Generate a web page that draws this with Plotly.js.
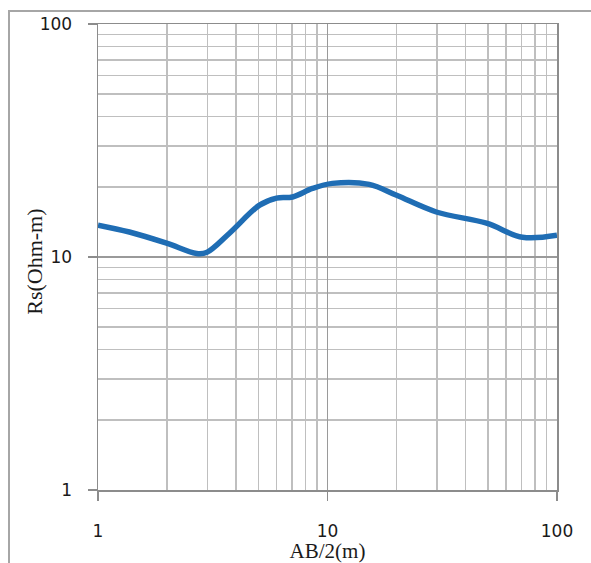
<!DOCTYPE html>
<html>
<head>
<meta charset="utf-8">
<script src="https://cdn.plot.ly/plotly-3.0.1.min.js"></script>
<style>
html,body{margin:0;padding:0;background:#fff;}
#wrap{position:absolute;left:0;top:0;width:591px;height:563px;overflow:hidden;}
#frame{position:absolute;left:8px;top:10px;width:700px;height:700px;border-left:2px solid #a6a6a6;border-top:2px solid #a6a6a6;pointer-events:none;}
#chart{position:absolute;left:0;top:0;width:591px;height:563px;}
</style>
</head>
<body>
<div id="wrap"><div id="chart"></div><div id="frame"></div></div>
<script>
// AB/2 (m)
const abHalf = [1.0, 1.37, 1.99, 2.69, 2.97, 3.74, 5.06, 6.0, 7.04, 8.6, 10.5, 15.2, 20.0, 29.8, 49.3, 70.7, 100];
// Apparent resistivity Rs (Ohm-m)
const rs = [13.7, 12.8, 11.46, 10.35, 10.45, 12.65, 16.7, 17.9, 18.1, 19.7, 20.7, 20.5, 18.4, 15.6, 13.96, 12.16, 12.4];
const majorTicks = [1, 10, 100];
const majorLabels = ['1', '10', '100'];
const xTitle = 'AB/2(m)';
const yTitle = 'Rs(Ohm-m)';

const tickFont = {family: 'DejaVu Sans', size: 17, color: '#1a1a1a'};
const titleFont = {family: 'Liberation Serif', size: 21, color: '#1a1a1a'};

const trace = {
  x: abHalf, y: rs, type: 'scatter', mode: 'lines',
  line: {color: '#1f6db4', width: 5.5, shape: 'spline', smoothing: 1},
  hoverinfo: 'x+y'
};

const axisCommon = {
  type: 'log',
  tickvals: majorTicks,
  ticktext: majorLabels,
  ticks: 'outside', ticklen: 9, tickwidth: 1.5, tickcolor: '#8c8c8c',
  showline: true, linecolor: '#8c8c8c', linewidth: 1.5, mirror: true,
  showgrid: true, gridcolor: '#9a9a9a', gridwidth: 1.5,
  minor: {dtick: 'D1', showgrid: true, gridcolor: '#bfbfbf', gridwidth: 1.5, ticks: ''},
  zeroline: false,
  tickfont: tickFont,
  automargin: false
};

const layout = {
  width: 591, height: 563,
  margin: {l: 98, r: 34, t: 24, b: 73},
  paper_bgcolor: '#ffffff', plot_bgcolor: '#ffffff',
  showlegend: false,
  xaxis: Object.assign({}, axisCommon, {
    range: [0, 2],
    ticklabelstandoff: 16,
    title: {text: xTitle, font: titleFont, standoff: 2}
  }),
  yaxis: Object.assign({}, axisCommon, {
    range: [0, 2],
    ticklabelstandoff: 12
  }),
  annotations: [{
    text: yTitle, xref: 'paper', yref: 'paper',
    x: -0.137, y: 0.49, xanchor: 'center', yanchor: 'middle',
    textangle: -90, showarrow: false,
    font: {family: 'Liberation Serif', size: 22, color: '#1a1a1a'}
  }]
};

Plotly.newPlot('chart', [trace], layout, {displayModeBar: false, staticPlot: true});
</script>
</body>
</html>
